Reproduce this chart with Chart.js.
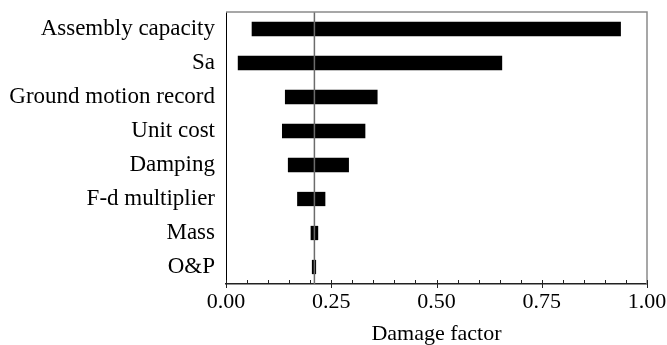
<!DOCTYPE html>
<html>
<head>
<meta charset="utf-8">
<script src="https://cdn.jsdelivr.net/npm/chart.js@4/dist/chart.umd.min.js"></script>
<style>
  html, body { margin: 0; padding: 0; background: #fff; }
  #wrap { width: 667px; height: 345px; }
</style>
</head>
<body>
<div id="wrap"><canvas id="tornado" width="667" height="345"></canvas></div>
<script>
const categories = ["Assembly capacity", "Sa", "Ground motion record", "Unit cost",
                    "Damping", "F-d multiplier", "Mass", "O&P"];
const lowValues  = [0.061, 0.028, 0.140, 0.133, 0.147, 0.169, 0.201, 0.204];
const highValues = [0.938, 0.656, 0.360, 0.331, 0.292, 0.236, 0.219, 0.214];
const baseValue = 0.21;
const xTicks = [0, 0.25, 0.5, 0.75, 1];

const FONT = "'Liberation Serif', 'Times New Roman', serif";

// frame, baseline and tick marks drawn through the scales
const framePlugin = {
  id: "frame",
  afterDatasetsDraw(c) {
    const { ctx, chartArea: a, scales: { x } } = c;
    ctx.save();
    // base case line
    const bx = x.getPixelForValue(baseValue);
    ctx.strokeStyle = "#6b6b6b";
    ctx.lineWidth = 1.5;
    ctx.beginPath();
    ctx.moveTo(bx, a.top);
    ctx.lineTo(bx, a.bottom);
    ctx.stroke();
    // top + right border
    ctx.strokeStyle = "#8a8a8a";
    ctx.lineWidth = 1.5;
    ctx.beginPath();
    ctx.moveTo(a.left, a.top);
    ctx.lineTo(a.right, a.top);
    ctx.lineTo(a.right, a.bottom);
    ctx.stroke();
    // ticks
    ctx.strokeStyle = "#222";
    ctx.lineWidth = 1;
    for (let i = 0; i <= 20; i++) {
      const v = i * 0.05;
      const px = Math.round(x.getPixelForValue(v)) + 0.5;
      const major = i % 5 === 0;
      ctx.beginPath();
      ctx.moveTo(px, a.bottom - 4);
      ctx.lineTo(px, a.bottom + (major ? 4 : 0));
      ctx.stroke();
    }
    ctx.restore();
  }
};

new Chart(document.getElementById("tornado"), {
  type: "bar",
  data: {
    labels: categories,
    datasets: [{
      data: categories.map((_, i) => [lowValues[i], highValues[i]]),
      backgroundColor: "#000",
      borderWidth: 0,
      categoryPercentage: 1,
      barPercentage: 0.42
    }]
  },
  options: {
    indexAxis: "y",
    responsive: false,
    animation: false,
    layout: { autoPadding: false, padding: { top: 12, right: 20, left: 0, bottom: 0 } },
    plugins: { legend: { display: false }, tooltip: { enabled: false } },
    scales: {
      x: {
        min: 0, max: 1,
        afterBuildTicks: s => { s.ticks = xTicks.map(v => ({ value: v })); },
        afterFit: s => { s.height = 61; s.paddingLeft = 0; s.paddingRight = 0; },
        grid: { display: false, drawTicks: false },
        border: { color: "#222", width: 1.5 },
        ticks: {
          padding: 5,
          color: "#000",
          maxRotation: 0,
          font: { family: FONT, size: 22 },
          callback: v => v.toFixed(2)
        },
        title: {
          display: true,
          text: "Damage factor",
          color: "#000",
          font: { family: FONT, size: 22, lineHeight: 1 },
          padding: { top: 0, bottom: 0 }
        }
      },
      y: {
        afterFit: s => { s.width = 226; s.paddingTop = 0; s.paddingBottom = 0; },
        grid: { display: false, drawTicks: false },
        border: { color: "#000", width: 1 },
        ticks: {
          padding: 11,
          color: "#000",
          autoSkip: false,
          font: { family: FONT, size: 23 }
        }
      }
    }
  },
  plugins: [framePlugin]
});
</script>
</body>
</html>
